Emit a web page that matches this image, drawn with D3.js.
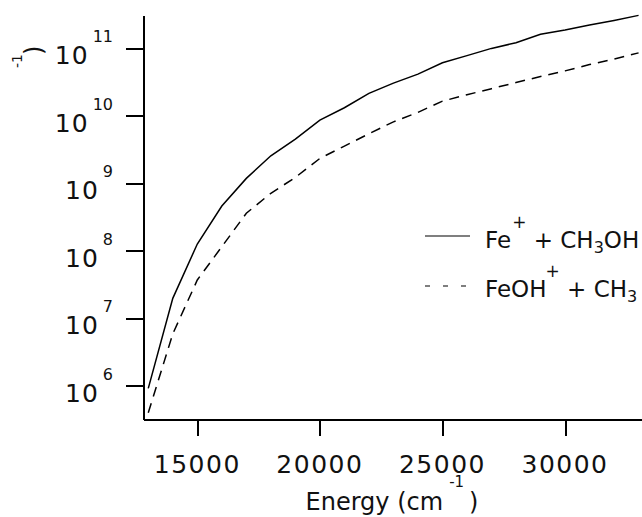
<!DOCTYPE html>
<html>
<head>
<meta charset="utf-8">
<script src="https://cdn.jsdelivr.net/npm/d3@7"></script>
<style>
  body { margin: 0; background: #fff; }
  svg { display: block; font-family: "DejaVu Sans", Verdana, sans-serif; }
  .axis path, .axis line { stroke: #000; stroke-width: 2; shape-rendering: crispEdges; }
</style>
</head>
<body>
<svg width="642" height="517"></svg>
<script>
// energies (cm-1) and rate values
var energy = [13000, 14000, 15000, 16000, 17000, 18000, 19000, 20000, 21000, 22000, 23000,
  24000, 25000, 26000, 27000, 28000, 29000, 30000, 31000, 32000, 33000];
var rateFe = [9.2e5, 1.98e7, 1.26e8, 4.6e8, 1.18e9, 2.55e9, 4.5e9, 8.6e9, 1.31e10, 2.14e10, 3.03e10,
  4.12e10, 6.07e10, 7.74e10, 9.9e10, 1.2e11, 1.6e11, 1.85e11, 2.19e11, 2.57e11, 3.05e11];
var rateFeOH = [4.0e5, 5.9e6, 3.7e7, 1.15e8, 3.6e8, 7.1e8, 1.22e9, 2.33e9, 3.55e9, 5.4e9, 8.1e9,
  1.12e10, 1.64e10, 2.04e10, 2.51e10, 3.09e10, 3.8e10, 4.6e10, 5.7e10, 6.9e10, 8.5e10];
var xTicks = [15000, 20000, 25000, 30000];
var yExponents = [6, 7, 8, 9, 10, 11];
var xDomain = [12785, 33140];
var yDomain = [3.24e5, 3.09e11];

var svg = d3.select('svg');

var xScale = d3.scaleLinear().domain(xDomain).range([143, 642]);
var yScale = d3.scaleLog().domain(yDomain).range([419, 15]);

// y axis
var yAxis = d3.axisLeft(yScale)
  .tickValues(yExponents.map(function(e) { return Math.pow(10, e); }))
  .tickSize(17)
  .tickSizeOuter(0)
  .tickFormat('');
svg.append('g')
  .attr('class', 'axis')
  .attr('transform', 'translate(143,0)')
  .call(yAxis);

// x axis
var xAxis = d3.axisBottom(xScale)
  .tickValues(xTicks)
  .tickSize(17)
  .tickSizeOuter(0)
  .tickFormat('');
svg.append('g')
  .attr('class', 'axis')
  .attr('transform', 'translate(0,419)')
  .call(xAxis);

// y tick labels: 10 with exponent
yExponents.forEach(function(e) {
  var y = yScale(Math.pow(10, e));
  var t = svg.append('text')
    .attr('x', 113)
    .attr('y', y + 16)
    .attr('text-anchor', 'end')
    .style('font-size', '25px')
    .style('letter-spacing', '1px')
    .attr('fill', '#111');
  t.append('tspan').text('10');
  t.append('tspan')
    .attr('dx', 4)
    .attr('dy', -22)
    .style('font-size', '16px')
    .style('letter-spacing', '0px')
    .text(e);
});

// x tick labels
svg.selectAll('.xlab')
  .data(xTicks)
  .enter()
  .append('text')
  .attr('class', 'xlab')
  .attr('x', function(d) { return xScale(d); })
  .attr('y', 419 + 54)
  .attr('text-anchor', 'middle')
  .style('font-size', '25px')
  .style('letter-spacing', '1.5px')
  .attr('fill', '#111')
  .text(function(d) { return d; });

// x axis title
var xt = svg.append('text')
  .attr('x', 392)
  .attr('y', 509.5)
  .attr('text-anchor', 'middle')
  .style('font-size', '24px')
  .attr('fill', '#111');
xt.append('tspan').text('Energy (cm');
xt.append('tspan').attr('dx', 6).attr('dy', -23).style('font-size', '15px').text('-1');
xt.append('tspan').attr('dx', 5).attr('dy', 23).text(')');

// y axis title (only its end is visible)
svg.append('text')
  .attr('transform', 'translate(22,68) rotate(-90)')
  .style('font-size', '14px')
  .attr('fill', '#111')
  .text('-1');
svg.append('text')
  .attr('transform', 'translate(42,55) rotate(-90)')
  .style('font-size', '24px')
  .attr('fill', '#111')
  .text(')');

// curves
var line = d3.line()
  .x(function(d) { return xScale(d[0]); })
  .y(function(d) { return yScale(d[1]); });

svg.append('path')
  .datum(d3.zip(energy, rateFe))
  .attr('d', line)
  .attr('fill', 'none')
  .attr('stroke', '#000')
  .attr('stroke-width', 1.5);

svg.append('path')
  .datum(d3.zip(energy, rateFeOH))
  .attr('d', line)
  .attr('fill', 'none')
  .attr('stroke', '#000')
  .attr('stroke-width', 1.5)
  .attr('stroke-dasharray', '10,7');

// legend
var legend = svg.append('g');
legend.append('line')
  .attr('x1', 425).attr('x2', 470)
  .attr('y1', 236).attr('y2', 236)
  .attr('stroke', '#000').attr('stroke-width', 1.2);
legend.append('line')
  .attr('x1', 425).attr('x2', 471)
  .attr('y1', 286).attr('y2', 286)
  .attr('stroke', '#000').attr('stroke-width', 1.2)
  .attr('stroke-dasharray', '5,13');

var l1 = legend.append('text')
  .attr('x', 485).attr('y', 248)
  .style('font-size', '23px')
  .attr('fill', '#111');
l1.append('tspan').text('Fe');
l1.append('tspan').attr('dx', 1).attr('dy', -20).style('font-size', '17px').text('+');
l1.append('tspan').attr('dy', 20).text(' + CH');
l1.append('tspan').attr('dy', 5).style('font-size', '16px').text('3');
l1.append('tspan').attr('dy', -5).text('OH');

var l2 = legend.append('text')
  .attr('x', 485).attr('y', 297)
  .style('font-size', '23px')
  .attr('fill', '#111');
l2.append('tspan').text('FeOH');
l2.append('tspan').attr('dx', -1).attr('dy', -20).style('font-size', '17px').text('+');
l2.append('tspan').attr('dy', 20).text(' + CH');
l2.append('tspan').attr('dy', 5).style('font-size', '16px').text('3');
</script>
</body>
</html>
